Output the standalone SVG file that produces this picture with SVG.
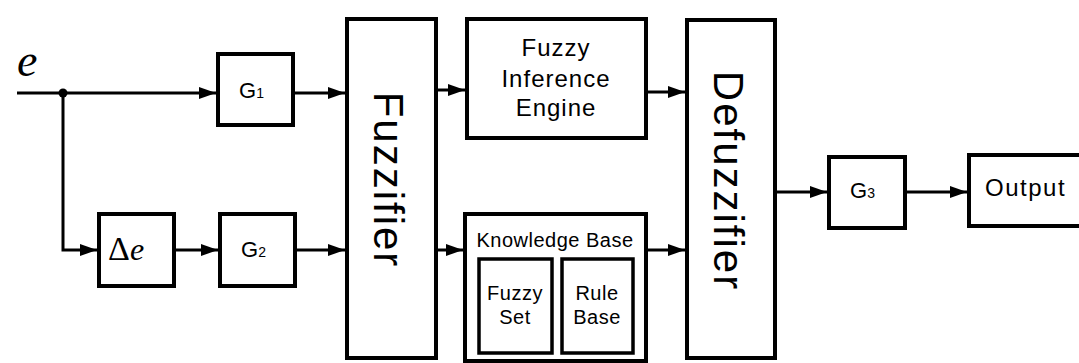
<svg xmlns="http://www.w3.org/2000/svg" width="1079" height="363" viewBox="0 0 1079 363">
  <style>
    .box { fill: none; stroke: #000; stroke-width: 4; }
    .inner { fill: none; stroke: #000; stroke-width: 3.5; }
    .wire { fill: none; stroke: #000; stroke-width: 3; }
    .lbl { font-family: "Liberation Sans", Arial, sans-serif; fill: #000; }
    .big { font-size: 42px; letter-spacing: 2px; }
    .mid { font-size: 24px; letter-spacing: 1px; text-anchor: middle; }
    .sm { font-size: 20px; letter-spacing: 0.5px; text-anchor: middle; }
    .g { font-size: 22px; }
    .sub { font-size: 14px; }
    .math { font-family: "Liberation Serif", "Times New Roman", serif; fill: #000; }
  </style>
  <defs>
    <marker id="arrow" viewBox="0 0 17 12" refX="17" refY="6" markerWidth="17" markerHeight="12" markerUnits="userSpaceOnUse" orient="auto">
      <path d="M0,0 L17,6 L0,12 Z" fill="#000"/>
    </marker>
  </defs>

  <!-- input signal label -->
  <text id="input-e" class="math" x="17" y="76" font-size="46" font-style="italic">e</text>

  <g id="connectors">
    <path class="wire" d="M17,93 H216" marker-end="url(#arrow)"/>
    <circle cx="63" cy="93" r="4.5" fill="#000"/>
    <path class="wire" d="M63,93 V250 H97" marker-end="url(#arrow)"/>
    <path class="wire" d="M176,250 H218" marker-end="url(#arrow)"/>
    <path class="wire" d="M295,93 H345" marker-end="url(#arrow)"/>
    <path class="wire" d="M297,250 H345" marker-end="url(#arrow)"/>
    <path class="wire" d="M438,90 H465" marker-end="url(#arrow)"/>
    <path class="wire" d="M648,92 H685" marker-end="url(#arrow)"/>
    <path class="wire" d="M438,250 H463" marker-end="url(#arrow)"/>
    <path class="wire" d="M648,250 H685" marker-end="url(#arrow)"/>
    <path class="wire" d="M777,192 H827" marker-end="url(#arrow)"/>
    <path class="wire" d="M907,192 H967" marker-end="url(#arrow)"/>
  </g>

  <g id="g1">
    <rect class="box" x="218" y="54" width="75" height="71"/>
    <text class="lbl g" x="239" y="98">G<tspan class="sub">1</tspan></text>
  </g>

  <g id="delta-e">
    <rect class="box" x="99" y="214" width="75" height="72"/>
    <text class="math" x="108" y="260" font-size="34">Δ<tspan font-size="32" font-style="italic">e</tspan></text>
  </g>

  <g id="g2">
    <rect class="box" x="220" y="214" width="75" height="72"/>
    <text class="lbl g" x="241" y="257">G<tspan class="sub">2</tspan></text>
  </g>

  <g id="fuzzifier">
    <rect class="box" x="347" y="19" width="89" height="339"/>
    <text class="lbl big" text-anchor="middle" transform="translate(374,180) rotate(90)">Fuzzifier</text>
  </g>

  <g id="inference-engine">
    <rect class="box" x="467" y="19" width="179" height="119"/>
    <text class="lbl mid" x="556" y="56">Fuzzy</text>
    <text class="lbl mid" x="556" y="87">Inference</text>
    <text class="lbl mid" x="556" y="116">Engine</text>
  </g>

  <g id="knowledge-base">
    <rect class="box" x="465" y="214" width="181" height="147"/>
    <text class="lbl sm" x="555" y="247" font-size="21">Knowledge Base</text>
    <g id="fuzzy-set">
      <rect class="inner" x="479" y="259" width="73" height="94"/>
      <text class="lbl sm" x="515" y="300">Fuzzy</text>
      <text class="lbl sm" x="515" y="324">Set</text>
    </g>
    <g id="rule-base">
      <rect class="inner" x="562" y="259" width="71" height="94"/>
      <text class="lbl sm" x="597" y="300">Rule</text>
      <text class="lbl sm" x="597" y="324">Base</text>
    </g>
  </g>

  <g id="defuzzifier">
    <rect class="box" x="687" y="20" width="88" height="338"/>
    <text class="lbl big" text-anchor="middle" transform="translate(714,181) rotate(90)">Defuzzifier</text>
  </g>

  <g id="g3">
    <rect class="box" x="829" y="157" width="76" height="71"/>
    <text class="lbl g" x="850" y="198">G<tspan class="sub">3</tspan></text>
  </g>

  <g id="output">
    <path class="box" d="M1082,155 H969 V226 H1082"/>
    <text class="lbl" x="985" y="196" font-size="24" letter-spacing="1.5">Output</text>
  </g>
</svg>
